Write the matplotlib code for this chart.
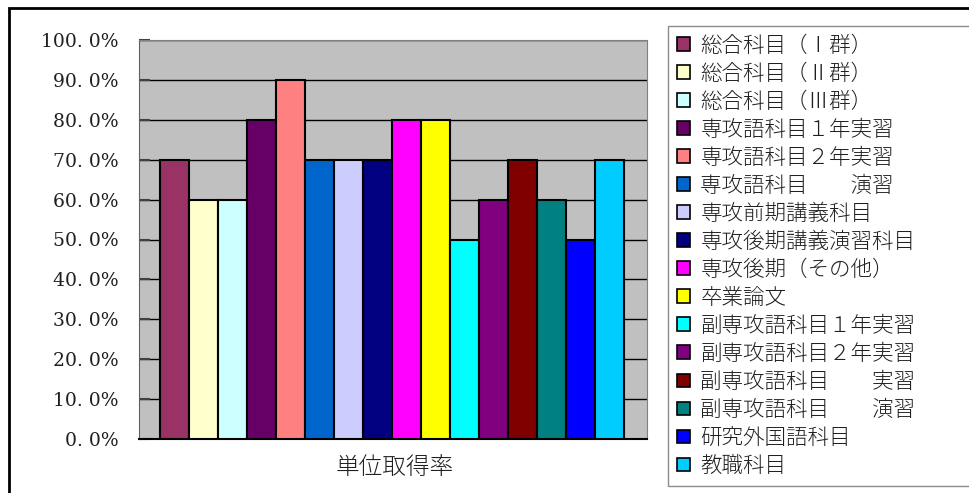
import matplotlib
matplotlib.use("Agg")
import matplotlib.pyplot as plt
from matplotlib.patches import Patch, Rectangle
from matplotlib.ticker import FuncFormatter

categories = ["総合科目（Ⅰ群）", "総合科目（Ⅱ群）", "総合科目（Ⅲ群）",
              "専攻語科目１年実習", "専攻語科目２年実習", "専攻語科目　　演習",
              "専攻前期講義科目", "専攻後期講義演習科目", "専攻後期（その他）",
              "卒業論文", "副専攻語科目１年実習", "副専攻語科目２年実習",
              "副専攻語科目　　実習", "副専攻語科目　　演習", "研究外国語科目", "教職科目"]
values = [70, 60, 60, 80, 90, 70, 70, 70, 80, 80, 50, 60, 70, 60, 50, 70]
colors = ["#993366", "#FFFFCC", "#CCFFFF", "#660066", "#FF8080", "#0066CC",
          "#CCCCFF", "#000080", "#FF00FF", "#FFFF00", "#00FFFF", "#800080",
          "#800000", "#008080", "#0000FF", "#00CCFF"]
y_ticks = [0, 10, 20, 30, 40, 50, 60, 70, 80, 90, 100]
x_label = "単位取得率"

jp = ["Noto Sans CJK JP", "DejaVu Sans"]

W, H = 969, 493
fig = plt.figure(figsize=(W / 100, H / 100), dpi=100)
fig.patch.set_facecolor("white")

# outer frame
fig.patches.append(Rectangle((9 / W, -0.05), 1.1, 1 - 8 / H + 0.05, transform=fig.transFigure,
                             fill=False, edgecolor="black", linewidth=2))

ax = fig.add_axes([139 / W, 1 - 439 / H, (647 - 139) / W, (439 - 40) / H])
ax.set_facecolor("#C0C0C0")
x = list(range(len(values)))
ax.bar(x, values, width=1.0, color=colors, edgecolor="black", linewidth=1.5, zorder=3)
ax.set_xlim(-1.22, len(values) - 1 + 1.28)
ax.set_ylim(0, 100)
ax.set_yticks(y_ticks)
ax.yaxis.set_major_formatter(FuncFormatter(lambda v, p: f"{v:.1f}%".replace(".", ". ")))
ax.yaxis.grid(True, color="black", linewidth=1, zorder=1)
ax.set_axisbelow(True)
ax.set_xticks([])
ax.tick_params(axis="y", direction="in", length=8, width=1.5, color="#404040", pad=15,
               labelsize=13.5, labelcolor="#202020")
for lab in ax.get_yticklabels():
    lab.set_fontfamily(["DejaVu Serif"])
ax.spines["left"].set_color("#606060")
ax.spines["top"].set_color("#808080")
ax.spines["right"].set_color("#808080")
ax.spines["bottom"].set_color("black")
ax.spines["bottom"].set_linewidth(1.5)

fig.text(395 / W, 1 - 468 / H, x_label, ha="center", va="center",
         fontsize=17, family=jp, color="#202020", fontweight="light")

handles = [Patch(facecolor=c, edgecolor="black", linewidth=1.2) for c in colors]
leg = fig.legend(handles, categories, loc="upper left",
                 bbox_to_anchor=(668 / W, 1 - 478 / H, 0.4, (478 - 26) / H),
                 mode="expand", prop={"family": jp, "size": 15.5, "weight": "light"},
                 handlelength=0.6, handleheight=0.6, handletextpad=0.5,
                 labelspacing=0.28, borderpad=0.4, borderaxespad=0,
                 fancybox=False, frameon=True)
leg.get_frame().set_edgecolor("#707070")
leg.get_frame().set_linewidth(1)
for t in leg.get_texts():
    t.set_color("#202020")

fig.savefig("out.png", dpi=100)
